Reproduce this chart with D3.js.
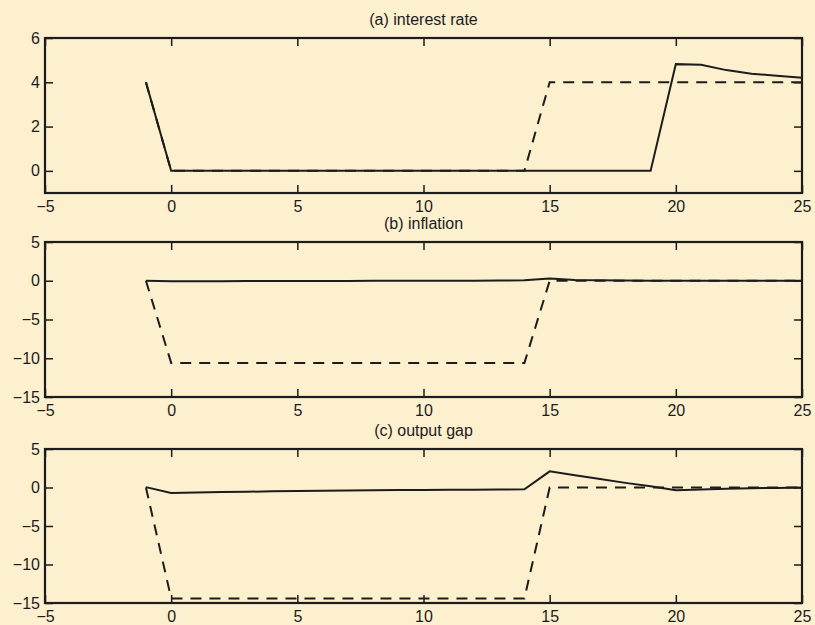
<!DOCTYPE html>
<html>
<head>
<meta charset="utf-8">
<script src="https://cdn.jsdelivr.net/npm/d3@7"></script>
<style>
  html, body { margin: 0; padding: 0; background: #fdf0cf; }
  svg { display: block; }
</style>
</head>
<body>
<div id="chart"></div>
<script>
// ----------------------------
// DATA
// ----------------------------
const periods = [-1, 0, 1, 2, 3, 4, 5, 6, 7, 8, 9, 10, 11, 12, 13, 14, 15, 16, 17, 18, 19, 20, 21, 22, 23, 24, 25];

const rateSolid  = [4, 0, 0, 0, 0, 0, 0, 0, 0, 0, 0, 0, 0, 0, 0, 0, 0, 0, 0, 0, 0, 4.82, 4.79, 4.55, 4.39, 4.29, 4.2];
const rateDashed = [4, 0, 0, 0, 0, 0, 0, 0, 0, 0, 0, 0, 0, 0, 0, 0, 4, 4, 4, 4, 4, 4, 4, 4, 4, 4, 4];

const inflSolid  = [0, -0.08, -0.06, -0.05, -0.04, -0.03, -0.03, -0.02, -0.02, -0.01, -0.01, 0, 0, 0, 0.02, 0.05, 0.3, 0.1, 0.05, 0.02, 0, 0, 0, 0, 0, 0, 0];
const inflDashed = [0, -10.6, -10.6, -10.6, -10.6, -10.6, -10.6, -10.6, -10.6, -10.6, -10.6, -10.6, -10.6, -10.6, -10.6, -10.6, 0, 0, 0, 0, 0, 0, 0, 0, 0, 0, 0];

const gapSolid  = [0.05, -0.7, -0.65, -0.6, -0.55, -0.5, -0.47, -0.43, -0.4, -0.37, -0.34, -0.32, -0.3, -0.28, -0.26, -0.24, 2.1, 1.6, 1.1, 0.6, 0.15, -0.35, -0.25, -0.15, -0.1, -0.05, 0];
const gapDashed = [0, -14.4, -14.4, -14.4, -14.4, -14.4, -14.4, -14.4, -14.4, -14.4, -14.4, -14.4, -14.4, -14.4, -14.4, -14.4, 0, 0, 0, 0, 0, 0, 0, 0, 0, 0, 0];

const xTicks = [-5, 0, 5, 10, 15, 20, 25];

const panels = [
  { title: "(a) interest rate", top: 38,  bottom: 193, domain: [-1, 6],  yTicks: [0, 2, 4, 6],         solid: rateSolid, dashed: rateDashed },
  { title: "(b) inflation",     top: 242, bottom: 397, domain: [-15, 5], yTicks: [-15, -10, -5, 0, 5], solid: inflSolid, dashed: inflDashed },
  { title: "(c) output gap",    top: 449, bottom: 603, domain: [-15, 5], yTicks: [-15, -10, -5, 0, 5], solid: gapSolid,  dashed: gapDashed }
];

// ----------------------------
// SETUP
// ----------------------------
const width = 815;
const height = 625;
const left = 45, right = 802;
const ink = "#1c1c1c";
const font = "'Liberation Sans', Arial, Helvetica, sans-serif";

const svg = d3.select("#chart")
  .append("svg")
  .attr("width", width)
  .attr("height", height)
  .style("background", "#fdf0cf");

const x = d3.scaleLinear().domain([-5, 25]).range([left, right]);

const line = (y) => d3.line()
  .x((d, i) => x(periods[i]))
  .y(d => y(d));

const fmt = d3.format("d");

// ----------------------------
// PANELS
// ----------------------------
panels.forEach(p => {
  const y = d3.scaleLinear().domain(p.domain).range([p.bottom, p.top]);
  const g = svg.append("g");

  // title
  g.append("text")
    .attr("x", (left + right) / 2)
    .attr("y", p.top - 13)
    .attr("text-anchor", "middle")
    .attr("font-family", font)
    .attr("font-size", "16px")
    .attr("fill", ink)
    .text(p.title);

  // axes (MATLAB style: ticks inward, all four sides)
  const axisStyle = sel => {
    sel.select(".domain").remove();
    sel.selectAll("line").attr("stroke", ink).attr("stroke-width", 1.5);
    sel.selectAll("text").attr("font-family", font).attr("font-size", "16px").attr("fill", ink);
  };

  g.append("g")
    .attr("transform", `translate(0,${p.bottom})`)
    .call(d3.axisBottom(x).tickValues(xTicks).tickFormat(fmt).tickSizeInner(-8).tickPadding(8))
    .call(axisStyle);

  g.append("g")
    .attr("transform", `translate(0,${p.top})`)
    .call(d3.axisTop(x).tickValues(xTicks).tickSizeInner(-8).tickFormat(""))
    .call(axisStyle);

  g.append("g")
    .attr("transform", `translate(${left},0)`)
    .call(d3.axisLeft(y).tickValues(p.yTicks).tickFormat(fmt).tickSizeInner(-8).tickPadding(5))
    .call(axisStyle);

  g.append("g")
    .attr("transform", `translate(${right},0)`)
    .call(d3.axisRight(y).tickValues(p.yTicks).tickSizeInner(-8).tickFormat(""))
    .call(axisStyle);

  // lines
  g.append("path")
    .attr("fill", "none")
    .attr("stroke", ink)
    .attr("stroke-width", 2)
    .attr("stroke-dasharray", "11,8")
    .attr("d", line(y)(p.dashed));

  g.append("path")
    .attr("fill", "none")
    .attr("stroke", ink)
    .attr("stroke-width", 2)
    .attr("d", line(y)(p.solid));

  // box
  g.append("rect")
    .attr("x", left)
    .attr("y", p.top)
    .attr("width", right - left)
    .attr("height", p.bottom - p.top)
    .attr("fill", "none")
    .attr("stroke", ink)
    .attr("stroke-width", 2.2);
});
</script>
</body>
</html>
